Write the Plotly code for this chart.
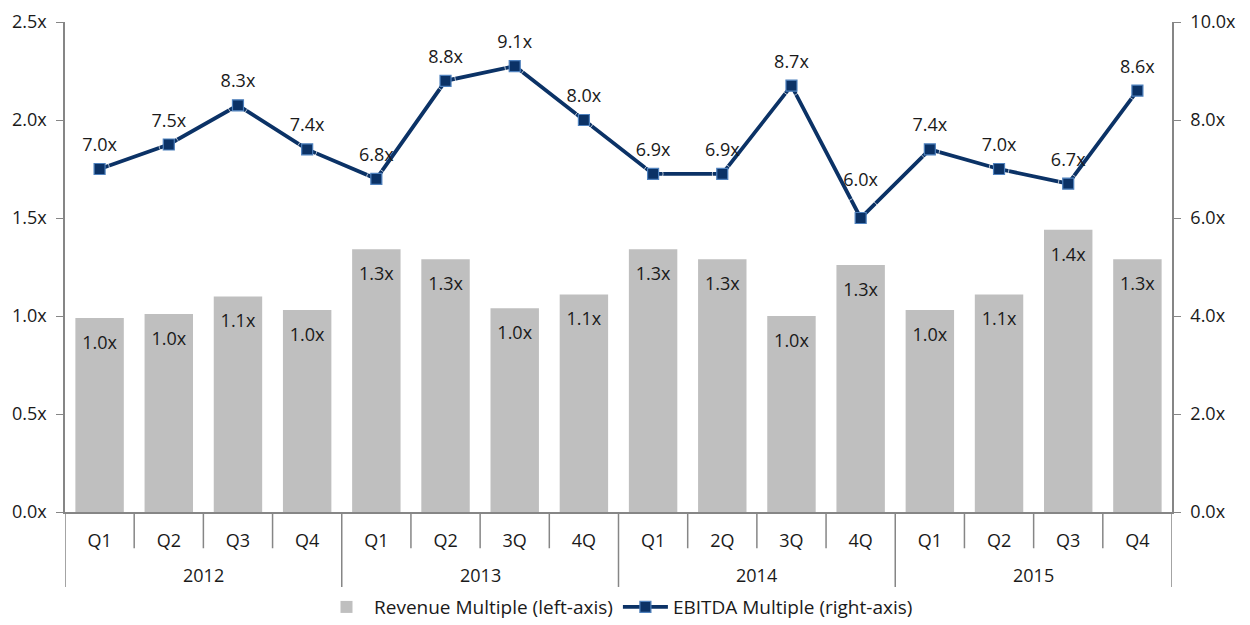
import plotly.graph_objects as go

years = ["2012", "2013", "2014", "2015"]
quarters = ["Q1", "Q2", "Q3", "Q4",
            "Q1", "Q2", "3Q", "4Q",
            "Q1", "2Q", "3Q", "4Q",
            "Q1", "Q2", "Q3", "Q4"]
revenue_multiple = [0.99, 1.01, 1.10, 1.03,
                    1.34, 1.29, 1.04, 1.11,
                    1.34, 1.29, 1.00, 1.26,
                    1.03, 1.11, 1.44, 1.29]
ebitda_multiple = [7.0, 7.5, 8.3, 7.4,
                   6.8, 8.8, 9.1, 8.0,
                   6.9, 6.9, 8.7, 6.0,
                   7.4, 7.0, 6.7, 8.6]

FONT = "Open Sans, Noto Sans, DejaVu Sans, sans-serif"
TXT = "#1a1a1a"
AX = "#868686"

n = len(quarters)
per_year = n // len(years)
cats = [f"{years[i // per_year]} {q}" for i, q in enumerate(quarters)]

fig = go.Figure()
fig.add_trace(go.Bar(
    x=cats, y=revenue_multiple,
    name="Revenue Multiple (left-axis)",
    marker=dict(color="#bfbfbf", line=dict(width=0)),
))
# bar value labels, inside below the bar top
fig.add_trace(go.Scatter(
    x=cats, y=revenue_multiple,
    mode="markers+text", showlegend=False, hoverinfo="skip",
    marker=dict(size=26, color="rgba(0,0,0,0)"),
    text=[f"{v:.1f}x" for v in revenue_multiple],
    textposition="bottom center",
    textfont=dict(size=18, color=TXT, family=FONT),
    cliponaxis=False,
))
fig.add_trace(go.Scatter(
    x=cats, y=ebitda_multiple, yaxis="y2",
    name="EBITDA Multiple (right-axis)",
    mode="lines+markers",
    line=dict(color="#0b3266", width=3.8),
    marker=dict(symbol="square", size=11, color="#0b3266",
                line=dict(color="#4f81bd", width=1.2)),
    cliponaxis=False,
))
# labels for the line (invisible markers set the text offset)
label_marker_sizes = [20] * n
label_marker_sizes[11] = 42
fig.add_trace(go.Scatter(
    x=cats, y=ebitda_multiple, yaxis="y2",
    mode="markers+text", showlegend=False, hoverinfo="skip",
    marker=dict(size=label_marker_sizes, color="rgba(0,0,0,0)"),
    text=[f"{v:.1f}x" for v in ebitda_multiple],
    textposition="top center",
    textfont=dict(size=18, color=TXT, family=FONT),
    cliponaxis=False,
))

shapes = []
for b in range(n + 1):
    is_year = (b % per_year == 0)
    shapes.append(dict(
        type="line", xref="x", yref="paper",
        x0=b - 0.5, x1=b - 0.5, y0=0, y1=-0.153 if is_year else -0.074,
        line=dict(color=AX, width=1.5),
    ))
annotations = []
for k, yr in enumerate(years):
    annotations.append(dict(
        x=k * per_year + (per_year - 1) / 2, xref="x",
        y=-0.129, yref="paper", yanchor="middle",
        text=yr, showarrow=False,
        font=dict(size=18, color=TXT, family=FONT),
    ))

fig.update_layout(
    width=1242, height=617,
    margin=dict(l=57, r=78, t=14, b=113, autoexpand=False),
    paper_bgcolor="white", plot_bgcolor="white",
    font=dict(family=FONT, size=18, color=TXT),
    bargap=0.3,
    showlegend=True,
    legend=dict(orientation="h", x=0.5, xanchor="center", y=-0.194, yanchor="middle",
                font=dict(size=19, color=TXT), itemwidth=45, traceorder="normal"),
    shapes=shapes,
    annotations=annotations,
    xaxis=dict(
        type="category", range=[-0.5, n - 0.5],
        tickmode="array", tickvals=cats, ticktext=quarters,
        showline=True, linecolor=AX, linewidth=1.5,
        ticks="", ticklabelstandoff=12,
        tickfont=dict(size=18, color=TXT),
        showgrid=False, zeroline=False, automargin=False,
    ),
    yaxis=dict(
        range=[0, 2.5], dtick=0.5, tickformat=".1f", ticksuffix="x",
        showline=True, linecolor=AX, linewidth=1.5,
        ticks="outside", ticklen=7, tickcolor=AX, ticklabelstandoff=6,
        showgrid=False, zeroline=False, automargin=False,
        tickfont=dict(size=18, color=TXT),
    ),
    yaxis2=dict(
        range=[0, 10], dtick=2, tickformat=".1f", ticksuffix="x",
        overlaying="y", side="right",
        showline=True, linecolor=AX, linewidth=1.5,
        ticks="outside", ticklen=7, tickcolor=AX, ticklabelstandoff=6,
        showgrid=False, zeroline=False, automargin=False,
        tickfont=dict(size=18, color=TXT),
    ),
)

fig.write_html("out.html")
